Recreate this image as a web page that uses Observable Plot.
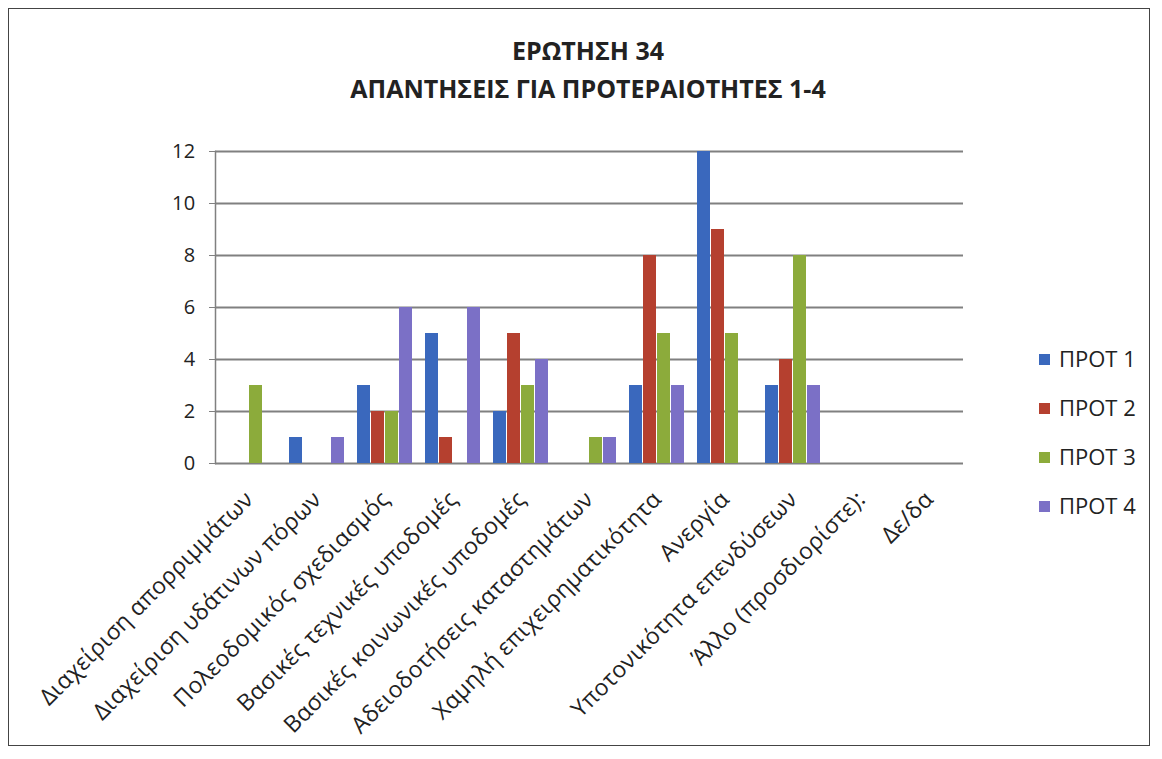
<!DOCTYPE html>
<html>
<head>
<meta charset="utf-8">
<script src="https://cdn.jsdelivr.net/npm/d3@7"></script>
<script src="https://cdn.jsdelivr.net/npm/@observablehq/plot@0.6"></script>
<style>
  html, body { margin: 0; padding: 0; background: #fff; }
  #wrap { position: relative; width: 1162px; height: 759px; font-family: "Open Sans", sans-serif; }
  #border { position: absolute; left: 8px; top: 8px; width: 1142px; height: 738px; border: 1.5px solid #444; box-sizing: border-box; }
  #title { position: absolute; left: 88px; width: 1000px; top: 31px; text-align: center; font-weight: 700; font-size: 25px; line-height: 38px; color: #222; }
  #chart { position: absolute; left: 0; top: 0; }
  #chart text { letter-spacing: 0.3px; }
  #legend { position: absolute; left: 1039px; top: 343px; font-size: 22px; color: #222; }
  #legend div { height: 49px; display: flex; align-items: flex-start; }
  #legend span.sw { display: inline-block; width: 11px; height: 11px; margin-right: 9px; margin-top: 11px; }
</style>
</head>
<body>
<div id="wrap">
  <div id="border"></div>
  <div id="title">ΕΡΩΤΗΣΗ 34<br>ΑΠΑΝΤΗΣΕΙΣ ΓΙΑ ΠΡΟΤΕΡΑΙΟΤΗΤΕΣ 1-4</div>
  <div id="chart"></div>
  <div id="legend"></div>
</div>
<script>
const categories = [
  "Διαχείριση απορριμμάτων",
  "Διαχείριση υδάτινων πόρων",
  "Πολεοδομικός σχεδιασμός",
  "Βασικές τεχνικές υποδομές",
  "Βασικές κοινωνικές υποδομές",
  "Αδειοδοτήσεις καταστημάτων",
  "Χαμηλή επιχειρηματικότητα",
  "Ανεργία",
  "Υποτονικότητα επενδύσεων",
  "Άλλο (προσδιορίστε):",
  "Δε/δα"
];
const seriesNames = ["ΠΡΟΤ 1", "ΠΡΟΤ 2", "ΠΡΟΤ 3", "ΠΡΟΤ 4"];
const prot1 = [0, 1, 3, 5, 2, 0, 3, 12, 3, 0, 0];
const prot2 = [0, 0, 2, 1, 5, 0, 8, 9, 4, 0, 0];
const prot3 = [3, 0, 2, 0, 3, 1, 5, 5, 8, 0, 0];
const prot4 = [0, 1, 6, 6, 4, 1, 3, 0, 3, 0, 0];
const yTicks = [0, 2, 4, 6, 8, 10, 12];
const colors = ["#3a68bd", "#b5402f", "#8cab3b", "#7b70c6"];

const seriesValues = [prot1, prot2, prot3, prot4];
const data = [];
categories.forEach((c, i) => {
  seriesNames.forEach((s, j) => data.push({cat: c, series: s, value: seriesValues[j][i]}));
});

const plot = Plot.plot({
  width: 1000,
  height: 759,
  marginTop: 151,
  marginBottom: 296,
  marginLeft: 214,
  marginRight: 36,
  style: {fontFamily: "Open Sans, sans-serif", color: "#222", background: "transparent"},
  fx: {domain: categories, padding: 0},
  x: {domain: seriesNames, axis: null, paddingInner: 0.04, paddingOuter: 0.4},
  y: {domain: [0, 12]},
  color: {domain: seriesNames, range: colors},
  marks: [
    Plot.ruleY(yTicks, {stroke: "#808080", strokeWidth: 2}),
    Plot.frame({anchor: "left", facetAnchor: "left", stroke: "#808080", strokeWidth: 1.5}),
    Plot.barY(data, {fx: "cat", x: "series", y: "value", fill: "series"}),
    Plot.axisY({ticks: yTicks, tickSize: 6, tickPadding: 14, fontSize: 20, label: null, stroke: "#808080"}),
    Plot.axisFx({anchor: "bottom", tickRotate: -45, tickSize: 0, tickPadding: 32, fontSize: 23, label: null})
  ]
});
document.getElementById("chart").appendChild(plot);

const legend = document.getElementById("legend");
seriesNames.forEach((s, j) => {
  const row = document.createElement("div");
  const sw = document.createElement("span");
  sw.className = "sw";
  sw.style.background = colors[j];
  row.appendChild(sw);
  row.appendChild(document.createTextNode(s));
  legend.appendChild(row);
});
</script>
</body>
</html>
